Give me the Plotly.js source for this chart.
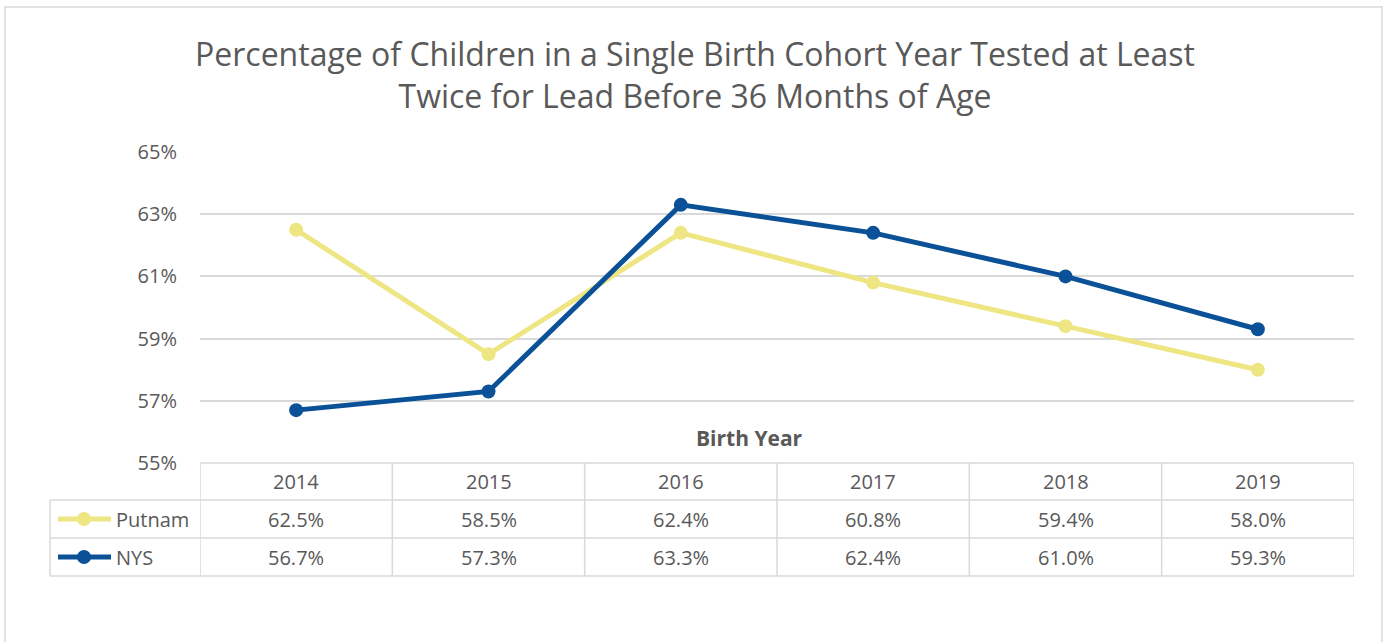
<!DOCTYPE html>
<html>
<head>
<meta charset="utf-8">
<script src="https://cdn.plot.ly/plotly-3.0.1.min.js"></script>
<style>
html,body{margin:0;padding:0;background:#fff;}
#chart{width:1387px;height:642px;}
</style>
</head>
<body>
<div id="chart"></div>
<script>
// ---- data ----
const years = ['2014', '2015', '2016', '2017', '2018', '2019'];
const seriesNames = ['Putnam', 'NYS'];
const putnam = [62.5, 58.5, 62.4, 60.8, 59.4, 58.0];
const nys = [56.7, 57.3, 63.3, 62.4, 61.0, 59.3];
const yTickVals = [55, 57, 59, 61, 63, 65];
const titleText = 'Percentage of Children in a Single Birth Cohort Year Tested at Least<br>Twice for Lead Before 36 Months of Age';
const xTitle = 'Birth Year';

// ---- styles ----
const W = 1387, H = 642;
const M = {l: 200, r: 33, t: 152, b: 179};
const PW = W - M.l - M.r, PH = H - M.t - M.b;
const colors = ['#EEE683', '#0B5197'];
const txt = '#595959';
const grid = '#D9D9D9';
const FONT = 'Open Sans, sans-serif';
const FS = 20;
const allSeries = [putnam, nys];

function px2x(px) { return (px - M.l) / PW; }
function py2y(py) { return (H - M.b - py) / PH; }

const traces = allSeries.map((vals, i) => ({
  type: 'scatter', mode: 'lines+markers', name: seriesNames[i],
  x: years, y: vals,
  line: {color: colors[i], width: 5},
  marker: {color: colors[i], size: 14},
  showlegend: false, hoverinfo: 'x+y'
}));

// table geometry (pixels)
const rowTop = [463, 500, 538];
const rowBot = 576;
const leftCol = 50;

const shapes = [];
const annotations = [];
const lineStyle = {color: grid, width: 1.5};

// horizontal lines
shapes.push({type: 'line', xref: 'x', yref: 'paper', x0: -0.5, x1: years.length - 0.5, y0: py2y(rowTop[0]), y1: py2y(rowTop[0]), line: lineStyle});
[rowTop[1], rowTop[2], rowBot].forEach(py => {
  shapes.push({type: 'line', xref: 'paper', yref: 'paper', x0: px2x(leftCol), x1: 1, y0: py2y(py), y1: py2y(py), line: lineStyle});
});
// vertical lines
for (let i = 0; i <= years.length; i++) {
  shapes.push({type: 'line', xref: 'x', yref: 'paper', x0: i - 0.5, x1: i - 0.5, y0: py2y(rowTop[0]), y1: py2y(rowBot), line: lineStyle});
}
shapes.push({type: 'line', xref: 'paper', yref: 'paper', x0: px2x(leftCol), x1: px2x(leftCol), y0: py2y(rowTop[1]), y1: py2y(rowBot), line: lineStyle});

// outer chart border
shapes.push({type: 'rect', xref: 'paper', yref: 'paper', x0: px2x(5), x1: px2x(1382), y0: py2y(7), y1: py2y(660), line: {color: grid, width: 1.5}});

// header row text
years.forEach((y, i) => {
  annotations.push({xref: 'x', yref: 'paper', x: i, y: py2y((rowTop[0] + rowTop[1]) / 2), text: y, showarrow: false, font: {family: FONT, size: FS, color: txt}, xanchor: 'center', yanchor: 'middle'});
});
// data rows
allSeries.forEach((vals, si) => {
  const cy = (rowTop[si + 1] + (si === 0 ? rowTop[2] : rowBot)) / 2;
  vals.forEach((v, i) => {
    annotations.push({xref: 'x', yref: 'paper', x: i, y: py2y(cy), text: v.toFixed(1) + '%', showarrow: false, font: {family: FONT, size: FS, color: txt}, xanchor: 'center', yanchor: 'middle'});
  });
  // legend key
  shapes.push({type: 'line', xref: 'paper', yref: 'paper', x0: px2x(58), x1: px2x(111), y0: py2y(cy), y1: py2y(cy), line: {color: colors[si], width: 5}});
  shapes.push({type: 'circle', xref: 'paper', yref: 'paper', x0: px2x(77), x1: px2x(91), y0: py2y(cy - 7), y1: py2y(cy + 7), fillcolor: colors[si], line: {color: colors[si], width: 0}});
  annotations.push({xref: 'paper', yref: 'paper', x: px2x(114), y: py2y(cy), text: seriesNames[si], showarrow: false, font: {family: FONT, size: FS, color: txt}, xanchor: 'left', yanchor: 'middle'});
});

// axis title "Birth Year"
annotations.push({xref: 'paper', yref: 'paper', x: px2x(749), y: py2y(438), text: '<b>' + xTitle + '</b>', showarrow: false, font: {family: FONT, size: 21, color: txt}, xanchor: 'center', yanchor: 'middle'});

const layout = {
  width: W, height: H,
  margin: M,
  paper_bgcolor: '#fff', plot_bgcolor: '#fff',
  font: {family: FONT, color: txt},
  title: {text: titleText, font: {family: FONT, size: 32, color: txt}, x: 695 / W, xref: 'container', xanchor: 'center', y: 1 - 66 / H, yref: 'container', yanchor: 'middle'},
  xaxis: {type: 'category', range: [-0.5, years.length - 0.5], showticklabels: false, showgrid: false, zeroline: false, showline: false, ticks: '', fixedrange: true},
  yaxis: {range: [55, 65], tickvals: yTickVals, ticktext: yTickVals.map(v => v + '%'), showgrid: true, gridcolor: grid, gridwidth: 1.5, zeroline: false, showline: false, ticks: '', ticklabelstandoff: 22, tickfont: {family: FONT, size: FS, color: txt}, fixedrange: true},
  shapes: shapes,
  annotations: annotations,
  showlegend: false
};

Plotly.newPlot('chart', traces, layout, {displayModeBar: false, responsive: false});
</script>
</body>
</html>
